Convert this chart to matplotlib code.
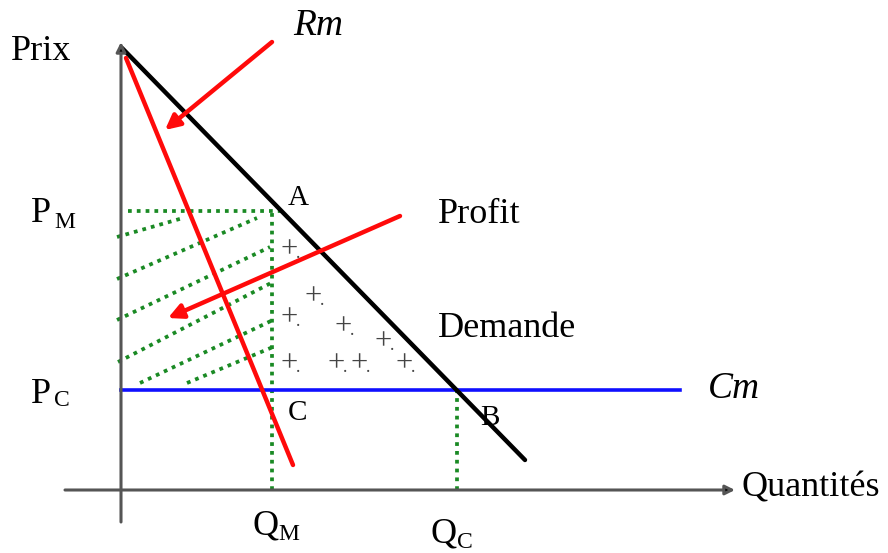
import matplotlib
matplotlib.use("Agg")
import matplotlib.pyplot as plt

# Monopoly diagram: quantities on x, price on y (origin at the axes corner)
demand_q = [1, 404]
demand_p = [442, 30]
rm_q = [5, 172]
rm_p = [432, 25]
cm_level = 100
cm_q = [0, 559]
p_m = 279
q_m = 151
q_c = 336

# deadweight-loss region markers ("+.")
plus_q = [167, 191, 167, 221, 261, 167, 214, 237, 282]
plus_p = [240, 193, 172, 163, 148, 126, 126, 126, 126]

# hatching of the monopoly profit rectangle (start q, start p, end q, end p)
hatch_q0 = [-4, -4, -4, -3, 19, 66]
hatch_p0 = [253, 211, 170, 128, 107, 107]
hatch_q1 = [62, 136, 149, 152, 152, 152]
hatch_p1 = [272, 272, 243, 208, 170, 143]

# pointer arrows (tail q, tail p, head q, head p)
rm_arrow = [151, 448, 44, 360]
profit_arrow = [279, 274, 47, 172]

GREEN = "#1a8a24"
RED = "#ff0a0a"
BLUE = "#1010ff"
SERIF = "Liberation Serif"

fig = plt.figure(figsize=(8.88, 5.53), dpi=100)
ax = fig.add_axes([0, 0, 1, 1])
ax.set_xlim(-121, 767)
ax.set_ylim(-63, 490)
ax.axis("off")

# axes with arrowheads
ax.annotate("", xy=(0, 448), xytext=(0, -32),
            arrowprops=dict(arrowstyle="-|>", color="#555555", lw=2.2,
                            mutation_scale=14, shrinkA=0, shrinkB=0,
                            fc="black", ec="#555555"))
ax.annotate("", xy=(614, 0), xytext=(-56, 0),
            arrowprops=dict(arrowstyle="-|>", color="#555555", lw=2.2,
                            mutation_scale=14, shrinkA=0, shrinkB=0,
                            fc="black", ec="#555555"))

dot = dict(color=GREEN, lw=2.7, linestyle=(0, (1, 1.35)), solid_capstyle="butt")

# demand where price equals p_m
slope = (demand_p[1] - demand_p[0]) / (demand_q[1] - demand_q[0])
q_a = demand_q[0] + (p_m - demand_p[0]) / slope

# dotted guides
ax.plot([7, q_a], [p_m, p_m], **dot)
ax.plot([q_m, q_m], [0, p_m], **dot)
ax.plot([q_c, q_c], [0, cm_level], **dot)
for a, b, c, d in zip(hatch_q0, hatch_p0, hatch_q1, hatch_p1):
    ax.plot([a, c], [b, d], **dot)

# curves
ax.plot(cm_q, [cm_level, cm_level], color=BLUE, lw=2.6)
ax.plot(demand_q, demand_p, color="black", lw=3.2, solid_capstyle="round")
ax.plot(rm_q, rm_p, color=RED, lw=3.2, solid_capstyle="round")

# pointer arrows
for q0, p0, q1, p1 in (rm_arrow, profit_arrow):
    ax.annotate("", xy=(q1, p1), xytext=(q0, p0),
                arrowprops=dict(arrowstyle="-|>", color=RED, lw=3.2,
                                mutation_scale=22, shrinkA=0, shrinkB=0))

for q, p in zip(plus_q, plus_p):
    ax.text(q + 1, p, "+", fontsize=22, family=SERIF, color="#444444",
            ha="center", va="center")
    ax.text(q + 8, p - 8, ".", fontsize=13, family=SERIF, color="#444444",
            ha="left", va="baseline")

def label(x, y, s, size=26, style="normal"):
    ax.text(x, y, s, fontsize=size, family=SERIF, style=style,
            ha="left", va="baseline", color="black")

label(-110, 430, "Prix")
label(172, 455, "Rm", size=27, style="italic")
label(-90, 268, "P")
label(-67, 262, "M", size=17)
label(-90, 87, "P")
label(-67, 84, "C", size=17)
label(167, 285, "A", size=21)
label(167, 70, "C", size=21)
label(359, 65, "B", size=21)
label(317, 267, "Profit")
label(317, 153, "Demande")
label(587, 92, "Cm", size=27, style="italic")
label(620, -6, "Quantités")
label(131, -45, "Q")
label(157, -50, "M", size=17)
label(309, -53, "Q")
label(336, -58, "C", size=17)

fig.savefig("out.png", dpi=100, facecolor="white")
